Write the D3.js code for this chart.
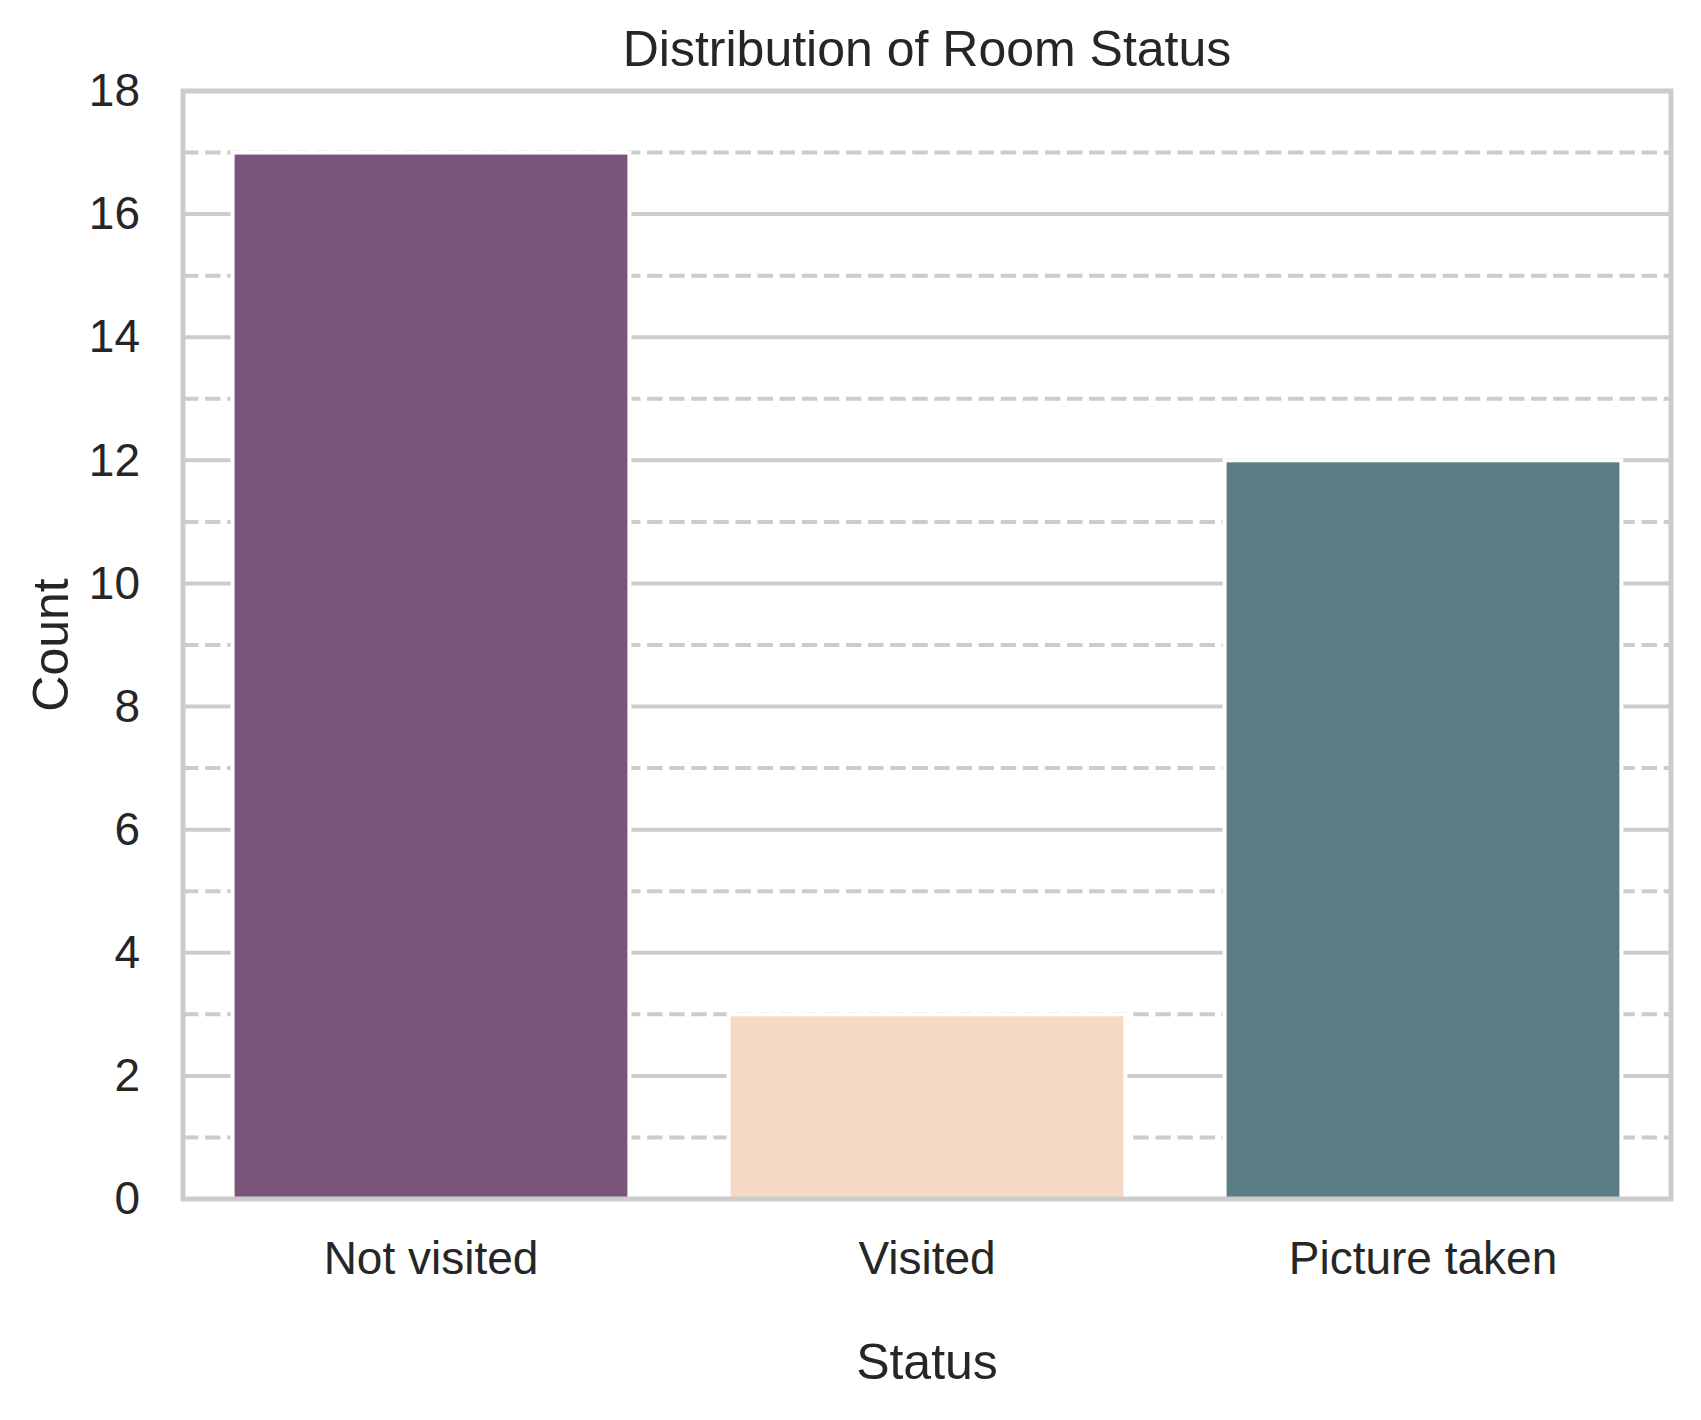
<!DOCTYPE html>
<html>
<head>
<meta charset="utf-8">
<script src="https://cdn.jsdelivr.net/npm/d3@7"></script>
<style>
  html, body { margin: 0; padding: 0; background: #ffffff; }
  svg { display: block; }
  text { font-family: "Liberation Sans", Arial, Helvetica, sans-serif; fill: #262626; }
</style>
</head>
<body>
<svg id="chart" width="1701" height="1420"></svg>
<script>
// ---- data ----
const categories = ["Not visited", "Visited", "Picture taken"];
const counts = [17, 3, 12];
const barColors = ["#7a547a", "#f6d9c5", "#5a7c84"];
const yMajorTicks = [0, 2, 4, 6, 8, 10, 12, 14, 16, 18];
const yMinorTicks = [1, 3, 5, 7, 9, 11, 13, 15, 17];
const titleText = "Distribution of Room Status";
const xLabelText = "Status";
const yLabelText = "Count";

// ---- layout ----
const W = 1701, H = 1420;
const plotLeft = 183, plotRight = 1671, plotTop = 91, plotBottom = 1199;

const svg = d3.select("#chart");
svg.append("rect").attr("width", W).attr("height", H).attr("fill", "#ffffff");

const x = d3.scaleBand().domain(categories).range([plotLeft, plotRight])
  .paddingInner(0.2).paddingOuter(0.1);
const y = d3.scaleLinear().domain([0, 18]).range([plotBottom, plotTop]);

// grid: minor dashed
svg.append("g").selectAll("line").data(yMinorTicks).join("line")
  .attr("x1", plotLeft).attr("x2", plotRight)
  .attr("y1", d => y(d)).attr("y2", d => y(d))
  .attr("stroke", "#cccccc").attr("stroke-width", 4)
  .attr("stroke-dasharray", "15.4,6.7");

// grid: major solid
svg.append("g").selectAll("line").data(yMajorTicks).join("line")
  .attr("x1", plotLeft).attr("x2", plotRight)
  .attr("y1", d => y(d)).attr("y2", d => y(d))
  .attr("stroke", "#cccccc").attr("stroke-width", 4);

// bars
svg.append("g").selectAll("rect").data(categories).join("rect")
  .attr("x", d => x(d))
  .attr("y", (d, i) => y(counts[i]))
  .attr("width", x.bandwidth())
  .attr("height", (d, i) => y(0) - y(counts[i]))
  .attr("fill", (d, i) => barColors[i])
  .attr("stroke", "#ffffff").attr("stroke-width", 4);

// spines
svg.append("rect")
  .attr("x", plotLeft).attr("y", plotTop)
  .attr("width", plotRight - plotLeft).attr("height", plotBottom - plotTop)
  .attr("fill", "none").attr("stroke", "#cccccc").attr("stroke-width", 5);

// y axis
const yAxis = svg.append("g").attr("transform", `translate(${plotLeft},0)`)
  .call(d3.axisLeft(y).tickValues(yMajorTicks).tickSize(0).tickPadding(43).tickFormat(d3.format("d")));
yAxis.select(".domain").remove();
yAxis.selectAll("text").attr("font-size", 46).attr("font-family", null).attr("fill", "#262626");

// x axis
const xAxis = svg.append("g").attr("transform", `translate(0,${plotBottom})`)
  .call(d3.axisBottom(x).tickSize(0).tickPadding(42));
xAxis.select(".domain").remove();
xAxis.selectAll("text").attr("font-size", 46).attr("font-family", null).attr("fill", "#262626");

// title
svg.append("text")
  .attr("x", (plotLeft + plotRight) / 2).attr("y", 66)
  .attr("text-anchor", "middle").attr("font-size", 50)
  .text(titleText);

// x label
svg.append("text")
  .attr("x", (plotLeft + plotRight) / 2).attr("y", 1379)
  .attr("text-anchor", "middle").attr("font-size", 50)
  .text(xLabelText);

// y label
svg.append("text")
  .attr("transform", `translate(68,${(plotTop + plotBottom) / 2}) rotate(-90)`)
  .attr("text-anchor", "middle").attr("font-size", 50)
  .text(yLabelText);
</script>
</body>
</html>
